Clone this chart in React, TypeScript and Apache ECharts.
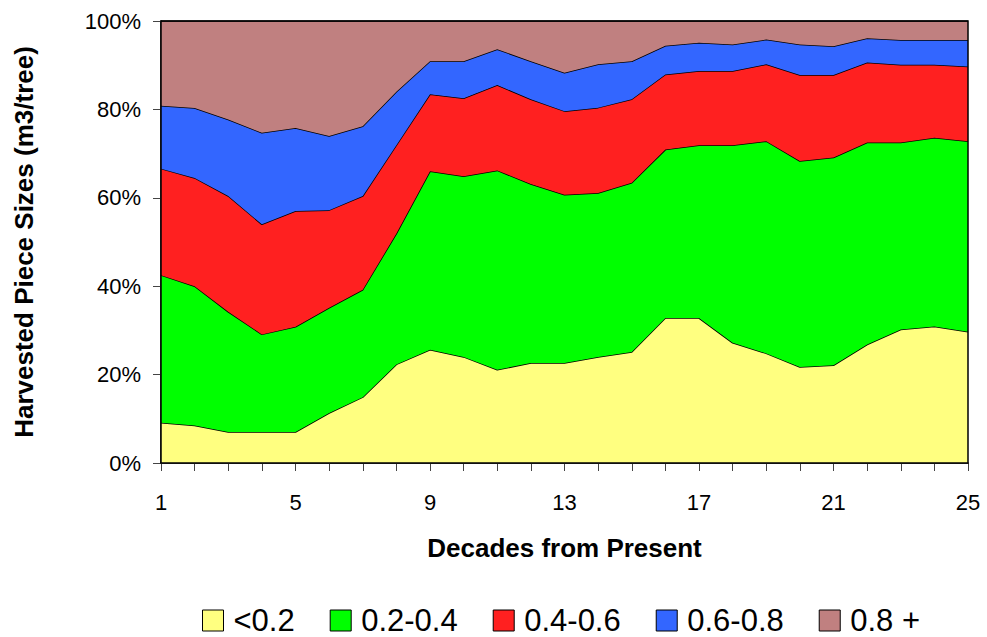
import React, { useEffect, useRef } from "react";
import * as echarts from "echarts";

const decades = ["1","2","3","4","5","6","7","8","9","10","11","12","13","14","15","16","17","18","19","20","21","22","23","24","25"];
const seriesNames = ["<0.2", "0.2-0.4", "0.4-0.6", "0.6-0.8", "0.8 +"];
const under02 = [9.1, 8.5, 7.0, 7.0, 7.0, 11.3, 14.9, 22.3, 25.6, 24.0, 21.1, 22.6, 22.6, 24.0, 25.1, 32.8, 32.8, 27.2, 24.8, 21.7, 22.1, 26.8, 30.2, 30.9, 29.7];
const from02to04 = [33.4, 31.5, 27.2, 22.1, 23.8, 23.8, 24.3, 29.6, 40.4, 40.9, 45.1, 40.5, 38.1, 37.1, 38.3, 38.1, 39.1, 44.7, 48.0, 46.6, 47.0, 45.7, 42.3, 42.7, 43.1];
const from04to06 = [24.1, 24.5, 26.2, 24.9, 26.2, 22.1, 21.2, 20.0, 17.4, 17.6, 19.3, 19.2, 18.9, 19.3, 18.9, 17.0, 16.8, 16.8, 17.4, 19.5, 18.7, 18.1, 17.6, 16.5, 16.9];
const from06to08 = [14.2, 15.8, 17.3, 20.7, 18.8, 16.8, 15.8, 12.1, 7.5, 8.4, 8.1, 8.6, 8.7, 9.8, 8.6, 6.5, 6.4, 6.0, 5.6, 6.9, 6.5, 5.5, 5.6, 5.6, 6.0];
const over08 = [19.2, 19.7, 22.3, 25.3, 24.2, 26.0, 23.8, 16.0, 9.1, 9.1, 6.4, 9.1, 11.7, 9.8, 9.1, 5.6, 4.9, 5.3, 4.2, 5.3, 5.7, 3.9, 4.3, 4.3, 4.3];
const colors = ["#FFFF80", "#00FF00", "#FF2020", "#3366FF", "#C08080"];

const FONT = "'Liberation Sans', Arial, sans-serif";

export default function App() {
  const ref = useRef<HTMLDivElement>(null);
  useEffect(() => {
    if (!ref.current) return;
    const chart = echarts.init(ref.current, null, { renderer: "svg" });
    const values = [under02, from02to04, from04to06, from06to08, over08];
    chart.setOption({
      animation: false,
      backgroundColor: "#fff",
      textStyle: { fontFamily: FONT, color: "#000" },
      grid: { left: 161, right: 19, top: 21, bottom: 174, show: true, borderColor: "#000", borderWidth: 1.5, backgroundColor: "transparent", z: 10 },
      legend: {
        left: 197,
        top: 600,
        icon: "rect",
        itemWidth: 21,
        itemHeight: 21,
        itemGap: 35,
        itemStyle: { borderColor: "#000", borderWidth: 1 },
        textStyle: { fontSize: 31, lineHeight: 31, fontFamily: FONT, color: "#000", padding: [0, 0, 0, 5] },
        data: seriesNames,
      },
      xAxis: {
        type: "category",
        data: decades,
        boundaryGap: false,
        name: "Decades from Present",
        nameLocation: "middle",
        nameGap: 72,
        nameTextStyle: { fontSize: 26, fontWeight: "bold", fontFamily: FONT, color: "#000" },
        axisLine: { lineStyle: { color: "#000", width: 1.5 } },
        axisTick: { show: true, interval: 0, length: 8, lineStyle: { color: "#444" } },
        axisLabel: { interval: 3, fontSize: 22, margin: 28, color: "#000", fontFamily: FONT },
        splitLine: { show: false },
      },
      yAxis: {
        type: "value",
        min: 0,
        max: 100,
        interval: 20,
        name: "Harvested Piece Sizes (m3/tree)",
        nameLocation: "middle",
        nameGap: 124,
        nameTextStyle: { fontSize: 26, fontWeight: "bold", fontFamily: FONT, color: "#000" },
        axisLine: { show: true, lineStyle: { color: "#000", width: 1.5 } },
        axisTick: { show: true, length: 8, lineStyle: { color: "#444" } },
        axisLabel: { formatter: "{value}%", fontSize: 22, margin: 20, color: "#000", fontFamily: FONT },
        splitLine: { show: false },
      },
      series: seriesNames.map((name, i) => ({
        name,
        type: "line",
        stack: "total",
        data: values[i],
        symbol: "none",
        itemStyle: { color: colors[i] },
        lineStyle: { color: "#000", width: 1.5 },
        areaStyle: { color: colors[i], opacity: 1 },
        z: 2 + i,
      })),
    });
    return () => chart.dispose();
  }, []);
  return <div ref={ref} style={{ position: "absolute", left: 0, top: 0, width: 987, height: 637 }} />;
}
